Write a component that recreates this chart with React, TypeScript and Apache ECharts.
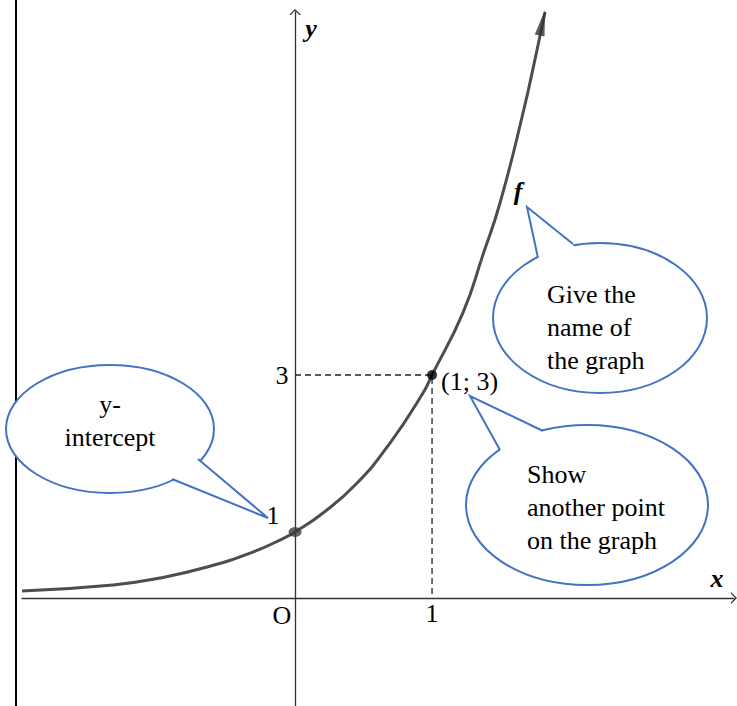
import React, { useEffect, useRef } from "react";
import * as echarts from "echarts";

// Curve (x in units, y in units)
const curveX = [-1.993, -1.328, -0.985, -0.642, -0.307, -0.088, 0, 0.204, 0.453, 0.693, 0.934, 1, 1.226, 1.372, 1.496, 1.664, 1.766, 1.825];
const curveY = [0.094, 0.175, 0.269, 0.417, 0.619, 0.80, 0.888, 1.143, 1.547, 2.085, 2.758, 3.0, 3.84, 4.62, 5.314, 6.525, 7.372, 7.884];

const guideX = [0, 1, 1];
const guideY = [3, 3, 0];

const pointA = [1, 3];
const pointALabel = "(1; 3)";
const pointB = [0, 0.888];
const arrowHead = [1.805, 7.74];

const xTickValues = [1];
const yTickValues = [3];

const SERIF = "'Liberation Serif', 'Times New Roman', serif";
const BLUE = "#4472C4";

const chevron = "path://M0,6 L6,0 L12,6 L10.3,6 L6,1.7 L1.7,6 Z";

function callout(
  cx: number, cy: number, rx: number, ry: number,
  b1: number[], tip: number[], b2: number[], inner: number[],
  text: string, tx: number, ty: number, align: string
) {
  return {
    type: "group",
    z: 10,
    children: [
      {
        type: "ellipse",
        z: 10,
        shape: { cx, cy, rx, ry },
        style: { fill: "#fff", stroke: BLUE, lineWidth: 2 },
      },
      {
        type: "polygon",
        z: 11,
        shape: { points: [b1, tip, b2, inner] },
        style: { fill: "#fff", stroke: "none" },
      },
      {
        type: "polyline",
        z: 12,
        shape: { points: [b1, tip, b2] },
        style: { fill: "none", stroke: BLUE, lineWidth: 2 },
      },
      {
        type: "text",
        z: 13,
        x: tx,
        y: ty,
        style: {
          text,
          fill: "#000",
          fontSize: 26,
          fontFamily: SERIF,
          lineHeight: 33,
          textAlign: align,
          align,
          textVerticalAlign: "top",
          verticalAlign: "top",
        },
      },
    ],
  };
}

function label(t: string, x: number, y: number, opts: any = {}) {
  return {
    type: "text",
    z: 14,
    x,
    y,
    style: {
      text: t,
      fill: "#000",
      fontSize: 26,
      fontFamily: SERIF,
      textAlign: "center",
      align: "center",
      textVerticalAlign: "middle",
      verticalAlign: "middle",
      ...opts,
    },
  };
}

export default function App() {
  const ref = useRef<HTMLDivElement>(null);
  useEffect(() => {
    if (!ref.current) return;
    const chart = echarts.init(ref.current, null, { renderer: "svg" });
    const curve = curveX.map((x, i) => [x, curveY[i]]);
    const guide = guideX.map((x, i) => [x, guideY[i]]);
    const axisCommon = {
      type: "value",
      axisLine: {
        show: true,
        onZero: true,
        lineStyle: { color: "#333", width: 1.3 },
        symbol: ["none", chevron],
        symbolSize: [12, 6],
      },
      axisTick: { show: false },
      axisLabel: { show: false },
      splitLine: { show: false },
    };
    const tickLabel = {
      show: true,
      color: "#000",
      opacity: 1,
      textBorderWidth: 0,
      fontSize: 26,
      fontFamily: SERIF,
    };
    chart.setOption({
      animation: false,
      backgroundColor: "#fff",
      grid: { left: 22, right: 3, top: 12, bottom: 0, containLabel: false, outerBoundsMode: "none" },
      xAxis: { ...axisCommon, min: -1.993, max: 3.204 },
      yAxis: { ...axisCommon, min: -1.453, max: 7.884 },
      series: [
        {
          type: "line",
          data: guide,
          showSymbol: false,
          silent: true,
          lineStyle: { color: "#222", width: 1.3, type: [6, 4] },
          z: 2,
        },
        {
          type: "line",
          data: curve,
          smooth: 0.5,
          showSymbol: false,
          silent: true,
          lineStyle: { color: "#4d4d4d", width: 3 },
          z: 3,
        },
        {
          type: "scatter",
          data: [arrowHead],
          symbol: "triangle",
          symbolSize: [10, 26],
          symbolRotate: -12,
          clip: false,
          itemStyle: { color: "#333" },
          z: 4,
        },
        {
          type: "scatter",
          data: [pointB],
          symbol: "circle",
          symbolSize: [13, 10],
          itemStyle: { color: "#3c3c3c" },
          z: 5,
        },
        {
          type: "scatter",
          data: [pointA],
          symbol: "circle",
          symbolSize: 10,
          itemStyle: { color: "#000" },
          label: {
            ...tickLabel,
            formatter: pointALabel,
            position: "right",
            distance: 4,
            offset: [0, 6],
          },
          z: 5,
        },
        {
          type: "scatter",
          data: xTickValues.map((v) => [v, 0]),
          symbolSize: 1,
          silent: true,
          itemStyle: { color: "#fff", opacity: 0 },
          label: { ...tickLabel, formatter: (p: any) => String(p.value[0]), position: "bottom", distance: 2 },
          z: 6,
        },
        {
          type: "scatter",
          data: yTickValues.map((v) => [0, v]),
          symbolSize: 1,
          silent: true,
          itemStyle: { color: "#fff", opacity: 0 },
          label: { ...tickLabel, formatter: (p: any) => String(p.value[1]), position: "left", distance: 6 },
          z: 6,
        },
      ],
      graphic: [
        {
          type: "line",
          z: 1,
          shape: { x1: 16, y1: 0, x2: 16, y2: 706 },
          style: { stroke: "#000", lineWidth: 2 },
        },
        callout(110, 429, 104, 64, [198, 459], [268, 518], [172, 479], [165, 445], "y-\nintercept", 110, 387.5, "center"),
        callout(600, 318, 107, 75, [573, 244], [527, 207], [538, 258], [590, 300], "Give the\nname of\nthe graph", 547, 277.5, "left"),
        callout(587, 505, 121, 80, [543, 431], [470, 396], [500, 450], [560, 480], "Show\nanother point\non the graph", 527, 457.5, "left"),
        label("1", 273, 515),
        label("O", 282, 615),
        label("y", 311, 28, { fontStyle: "italic", fontWeight: "bold" }),
        label("x", 717, 578, { fontStyle: "italic", fontWeight: "bold" }),
        label("f", 518, 191, { fontStyle: "italic", fontWeight: "bold" }),
      ],
    });
    return () => chart.dispose();
  }, []);
  return (
    <div
      ref={ref}
      style={{ position: "fixed", left: 0, top: 0, width: 737, height: 706 }}
    />
  );
}
